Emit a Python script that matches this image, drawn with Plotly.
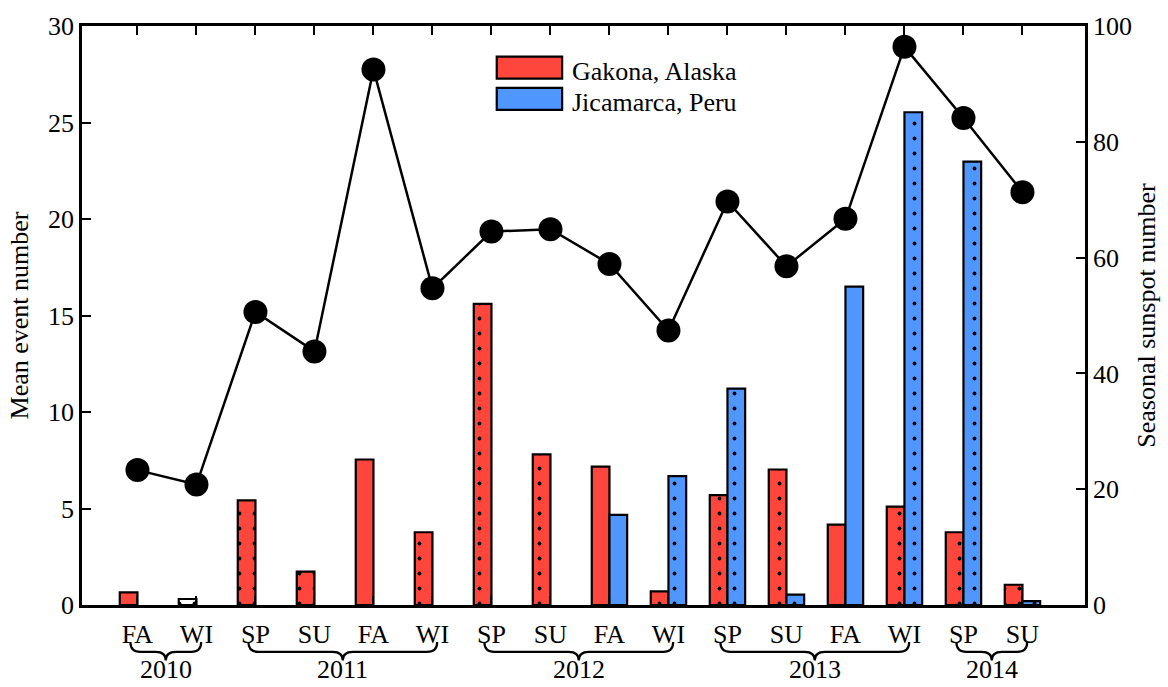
import plotly.graph_objects as go

# ---------------- data ----------------
seasons = ["FA", "WI", "SP", "SU", "FA", "WI", "SP", "SU",
           "FA", "WI", "SP", "SU", "FA", "WI", "SP", "SU"]
season_years = ["2010", "2010", "2011", "2011", "2011", "2011", "2012", "2012",
                "2012", "2012", "2013", "2013", "2013", "2013", "2014", "2014"]
gakona = [0.65, 0.31, 5.42, 1.73, 7.54, 3.77, 15.6, 7.8,
          7.17, 0.71, 5.69, 7.02, 4.16, 5.1, 3.77, 1.05]
jicamarca = [None, None, None, None, None, None, None, None,
             4.67, 6.68, 11.21, 0.54, 16.5, 25.53, 22.97, 0.2]
sunspot = [23.3, 20.8, 50.6, 43.8, 92.5, 54.7, 64.5, 64.9,
           58.9, 47.4, 69.7, 58.5, 66.7, 96.4, 84.1, 71.3]
left_ticks = [0, 5, 10, 15, 20, 25, 30]
right_ticks = [0, 20, 40, 60, 80, 100]
series_names = ["Gakona, Alaska", "Jicamarca, Peru"]

# ---------------- style ----------------
RED = "rgb(255,70,60)"
BLUE = "rgb(80,150,255)"
FONT = "Liberation Serif, Times New Roman, serif"
FS = 26

x = list(range(len(seasons)))
red_fill = [("white" if i == 1 else RED) for i in x]
blue_fill = [BLUE for i in x]
dot_shapes = ["" if s == "FA" else "." for s in seasons]

def pat(shapes, bg):
    return dict(shape=shapes, fillmode="replace", bgcolor=bg,
                fgcolor="black", fgopacity=1, size=15, solidity=0.05)

fig = go.Figure()
fig.add_trace(go.Bar(x=x, y=gakona, name=series_names[0],
                     marker=dict(color=RED, line=dict(color="black", width=2.2),
                                 pattern=pat(dot_shapes, red_fill)),
                     showlegend=False))
fig.add_trace(go.Bar(x=x, y=jicamarca, name=series_names[1],
                     marker=dict(color=BLUE, line=dict(color="black", width=2.2),
                                 pattern=pat(dot_shapes, blue_fill)),
                     showlegend=False))
fig.add_trace(go.Scatter(x=x, y=sunspot, yaxis="y2", mode="lines+markers",
                         line=dict(color="black", width=2.5),
                         marker=dict(color="black", size=24),
                         showlegend=False, name="Sunspot number"))

# braces + year labels below the axis
shapes = []
annotations = []
yt, ym, yb = -0.064, -0.081, -0.096
d = 0.17
for yr in dict.fromkeys(season_years):
    idx = [i for i, v in enumerate(season_years) if v == yr]
    xa, xb = idx[0] - 0.12, idx[-1] + 0.08
    xc = (xa + xb) / 2
    path = (f"M {xa},{yt} Q {xa},{ym} {xa + d},{ym} L {xc - d},{ym} "
            f"Q {xc},{ym} {xc},{yb} Q {xc},{ym} {xc + d},{ym} "
            f"L {xb - d},{ym} Q {xb},{ym} {xb},{yt}")
    shapes.append(dict(type="path", path=path, xref="x", yref="paper",
                       line=dict(color="black", width=2.2)))
    annotations.append(dict(text=yr, x=xc, y=-0.112, xref="x", yref="paper",
                            showarrow=False, yanchor="middle",
                            font=dict(family=FONT, size=FS, color="black")))

# custom legend (wide swatches like the original)
leg = [(series_names[0], RED, 0.947, 0.909), (series_names[1], BLUE, 0.893, 0.855)]
for name, col, y1, y0 in leg:
    shapes.append(dict(type="rect", xref="paper", yref="paper",
                       x0=0.4135, x1=0.4787, y0=y0, y1=y1,
                       fillcolor=col, line=dict(color="black", width=2.2)))
    annotations.append(dict(text=name, xref="paper", yref="paper",
                            x=0.487, y=(y0 + y1) / 2 - 0.006, xanchor="left",
                            yanchor="middle", showarrow=False,
                            font=dict(family=FONT, size=FS, color="black")))

axis_common = dict(showline=True, linecolor="black", linewidth=2.5,
                   ticks="inside", ticklen=9, tickwidth=2, tickcolor="black",
                   showgrid=False, zeroline=False,
                   tickfont=dict(family=FONT, size=FS, color="black"))

fig.update_layout(
    width=1168, height=687,
    margin=dict(l=82, r=75, t=16, b=82),
    paper_bgcolor="white", plot_bgcolor="white",
    barmode="group", bargap=0.4, bargroupgap=0,
    font=dict(family=FONT, size=FS, color="black"),
    xaxis=dict(**axis_common, range=[-0.94, 16.06], tickmode="array",
               tickvals=x, ticktext=seasons, mirror="ticks",
               ticklabelstandoff=4),
    yaxis=dict(**axis_common, range=[0, 30], tickmode="array",
               tickvals=left_ticks,
               title=dict(text="Mean event number", standoff=12,
                          font=dict(family=FONT, size=FS))),
    yaxis2=dict(**axis_common, range=[0, 100], tickmode="array",
                tickvals=right_ticks, overlaying="y", side="right",
                title=dict(text="Seasonal sunspot number", standoff=6,
                           font=dict(family=FONT, size=FS))),
    shapes=shapes,
    annotations=annotations,
)

fig.write_html("out.html")
